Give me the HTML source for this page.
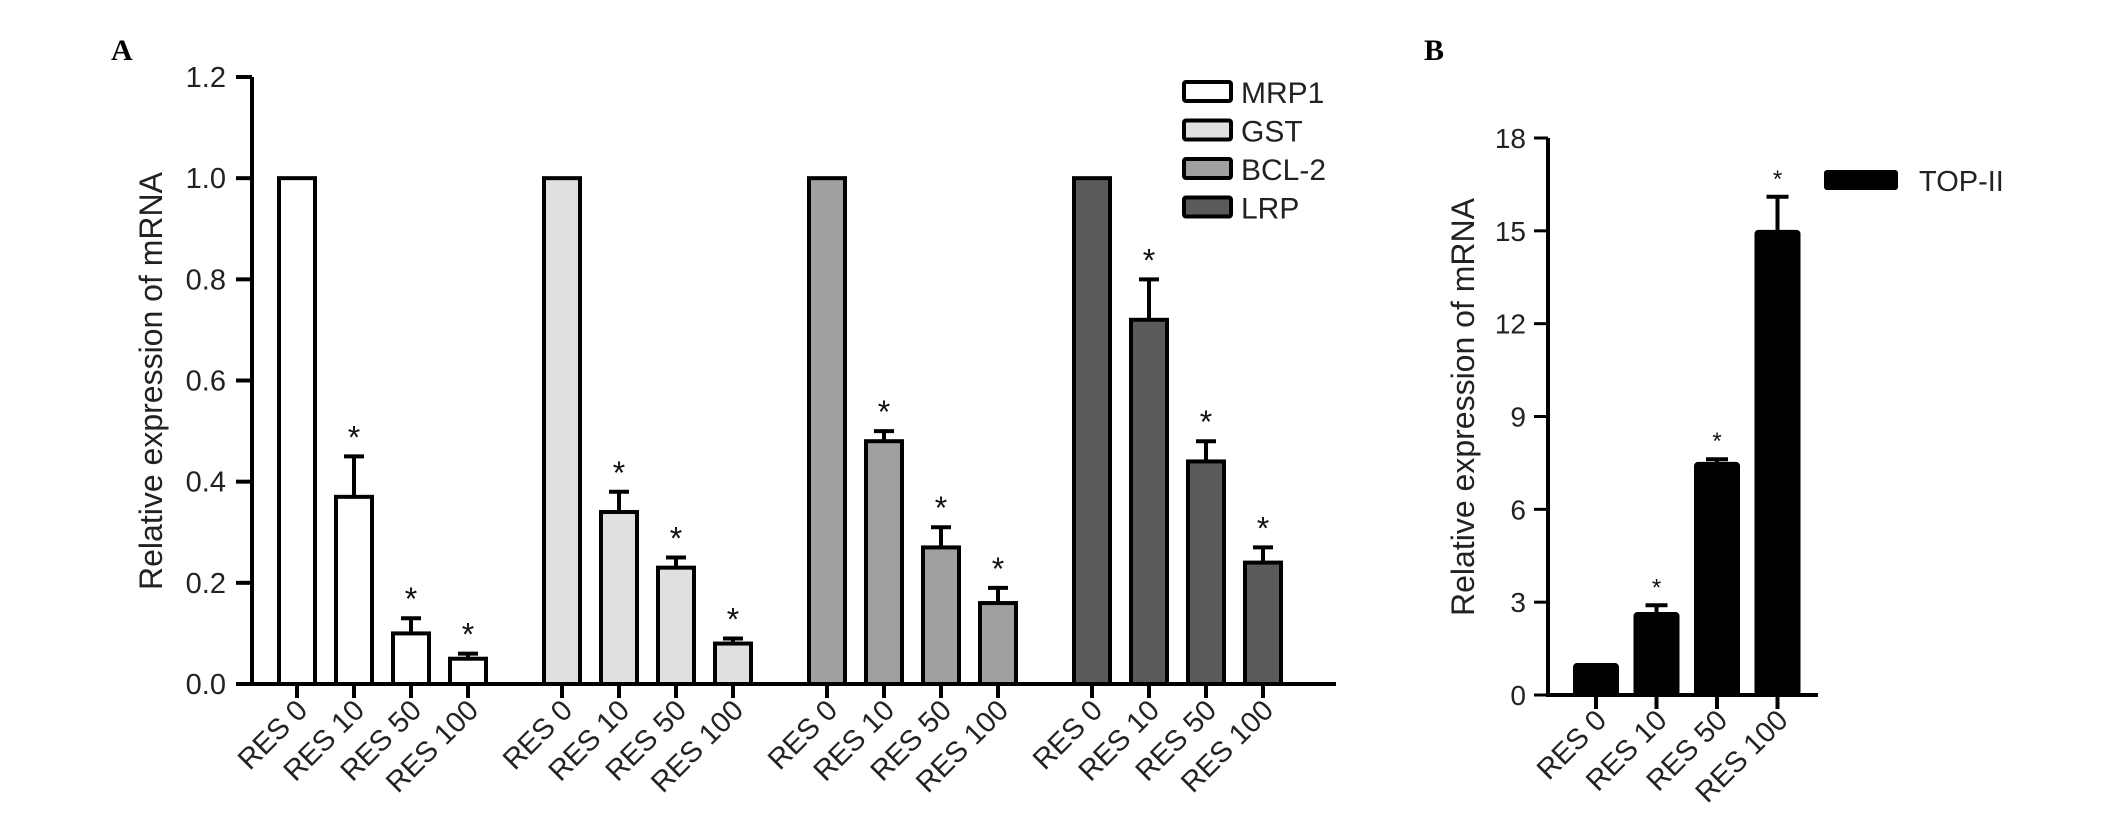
<!DOCTYPE html>
<html><head><meta charset="utf-8"><style>
html,body{margin:0;padding:0;background:#fff;}
svg{display:block;font-family:"Liberation Sans",Arial,sans-serif;}
</style></head><body>
<svg id="fig" width="2126" height="832" viewBox="0 0 2126 832" xmlns="http://www.w3.org/2000/svg">
<text x="111" y="60" font-family="Liberation Serif" font-weight="bold" font-size="30">A</text>
<text x="1424" y="60" font-family="Liberation Serif" font-weight="bold" font-size="30">B</text>
<g id="gA"></g>
<g id="gB"></g>
</svg>
<script>
const categories = ["RES 0","RES 10","RES 50","RES 100"];
const genes = ["MRP1","GST","BCL-2","LRP"];
const geneColors = ["#ffffff","#e0e0e0","#a0a0a0","#5a5a5a"];
const mrp1 = [1.0,0.37,0.10,0.05];
const mrp1Err = [0,0.08,0.03,0.01];
const gst = [1.0,0.34,0.23,0.08];
const gstErr = [0,0.04,0.02,0.01];
const bcl2 = [1.0,0.48,0.27,0.16];
const bcl2Err = [0,0.02,0.04,0.03];
const lrp = [1.0,0.72,0.44,0.24];
const lrpErr = [0,0.08,0.04,0.03];
const sigA = [false,true,true,true];
const ticksA = [0,0.2,0.4,0.6,0.8,1.0,1.2];
const tickLabelsA = ["0.0","0.2","0.4","0.6","0.8","1.0","1.2"];
const topII = [1.0,2.65,7.5,15.0];
const topIIErr = [0,0.25,0.12,1.1];
const sigB = [false,true,true,true];
const ticksB = [0,3,6,9,12,15,18];
const tickLabelsB = ["0","3","6","9","12","15","18"];

const NS="http://www.w3.org/2000/svg";
function mk(tag,attrs,parent,txt){const e=document.createElementNS(NS,tag);for(const k in attrs)e.setAttribute(k,attrs[k]);if(txt!==undefined)e.textContent=txt;parent.appendChild(e);return e;}

// Panel A
const gA=document.getElementById('gA');
const yA=v=>684-(v/1.2)*607;
const xA=(g,i)=>297+g*265+i*57;
let e;
e=mk('line',{x1:252,y1:77,x2:252,y2:686,stroke:'#000','stroke-width':4},gA);


e=mk('line',{x1:250,y1:684,x2:1336,y2:684,stroke:'#000','stroke-width':4},gA);


ticksA.forEach((t,i)=>{
  e=mk('line',{x1:236,y1:yA(t),x2:252,y2:yA(t),stroke:'#000','stroke-width':4},gA);
  
  
  e=mk('text',{x:226,y:yA(t)+10,'text-anchor':'end','font-size':29,fill:'#222'},gA,tickLabelsA[i]);
  
  
});
e=mk('text',{x:0,y:0,transform:'translate(162,381) rotate(-90)','text-anchor':'middle','font-size':32,fill:'#222'},gA,'Relative expression of mRNA');


const series=[[mrp1,mrp1Err],[gst,gstErr],[bcl2,bcl2Err],[lrp,lrpErr]];
series.forEach((s,g)=>{
  s[0].forEach((v,i)=>{
    const cx=xA(g,i);
    if(s[1][i]>0){
      e=mk('line',{x1:cx,y1:yA(v),x2:cx,y2:yA(v+s[1][i]),stroke:'#000','stroke-width':4},gA);
      
      
      e=mk('line',{x1:cx-10,y1:yA(v+s[1][i]),x2:cx+10,y2:yA(v+s[1][i]),stroke:'#000','stroke-width':4},gA);
      
      
    }
    e=mk('rect',{x:cx-18,y:yA(v),width:36,height:684-yA(v),fill:geneColors[g],stroke:'#000','stroke-width':4},gA);
    
    
    if(sigA[i]){
      e=mk('text',{x:cx,y:yA(v+s[1][i])-8,'text-anchor':'middle','font-size':32,fill:'#111'},gA,'*');
      
      
    }
    e=mk('line',{x1:cx,y1:684,x2:cx,y2:698,stroke:'#000','stroke-width':4},gA);
    
    
    e=mk('text',{x:0,y:0,transform:`translate(${cx+12},${712}) rotate(-45)`,'text-anchor':'end','font-size':29,fill:'#222'},gA,categories[i]);
    
    
  });
});
genes.forEach((gname,g)=>{
  const y=82+g*38.5;
  e=mk('rect',{x:1184,y:y,width:47,height:19,fill:geneColors[g],stroke:'#000','stroke-width':4,rx:2},gA);
  
  
  e=mk('text',{x:1241,y:y+21,'font-size':30,fill:'#222'},gA,gname);
  
  
});

// Panel B
const gB=document.getElementById('gB');
const yB=v=>695-(v/18)*557;
const xB=i=>1596+i*60.5;
e=mk('line',{x1:1548,y1:138,x2:1548,y2:697,stroke:'#000','stroke-width':4},gB);


e=mk('line',{x1:1546,y1:695,x2:1818,y2:695,stroke:'#000','stroke-width':4},gB);


ticksB.forEach((t,i)=>{
  e=mk('line',{x1:1534,y1:yB(t),x2:1548,y2:yB(t),stroke:'#000','stroke-width':3},gB);
  
  
  e=mk('text',{x:1526,y:yB(t)+10,'text-anchor':'end','font-size':28,fill:'#222'},gB,tickLabelsB[i]);
  
  
});
e=mk('text',{x:0,y:0,transform:'translate(1474,407) rotate(-90)','text-anchor':'middle','font-size':32,fill:'#222'},gB,'Relative expression of mRNA');


topII.forEach((v,i)=>{
  const cx=xB(i);
  if(topIIErr[i]>0){
    e=mk('line',{x1:cx,y1:yB(v),x2:cx,y2:yB(v+topIIErr[i]),stroke:'#000','stroke-width':4},gB);
    
    
    e=mk('line',{x1:cx-11,y1:yB(v+topIIErr[i]),x2:cx+11,y2:yB(v+topIIErr[i]),stroke:'#000','stroke-width':4},gB);
    
    
  }
  e=mk('rect',{x:cx-22,y:yB(v),width:44,height:695-yB(v),fill:'#000',stroke:'#000','stroke-width':2,rx:3},gB);
  
  
  if(sigB[i]){
    e=mk('text',{x:cx,y:yB(v+topIIErr[i])-10,'text-anchor':'middle','font-size':24,fill:'#111'},gB,'*');
    
    
  }
  e=mk('line',{x1:cx,y1:695,x2:cx,y2:709,stroke:'#000','stroke-width':4},gB);
  
  
  e=mk('text',{x:0,y:0,transform:`translate(${cx+12},${722}) rotate(-45)`,'text-anchor':'end','font-size':29,fill:'#222'},gB,categories[i]);
  
  
});
e=mk('rect',{x:1824,y:170,width:74,height:20,fill:'#000',rx:3},gB);


e=mk('text',{x:1919,y:191,'font-size':29,fill:'#222'},gB,'TOP-II');


</script>
</body></html>
